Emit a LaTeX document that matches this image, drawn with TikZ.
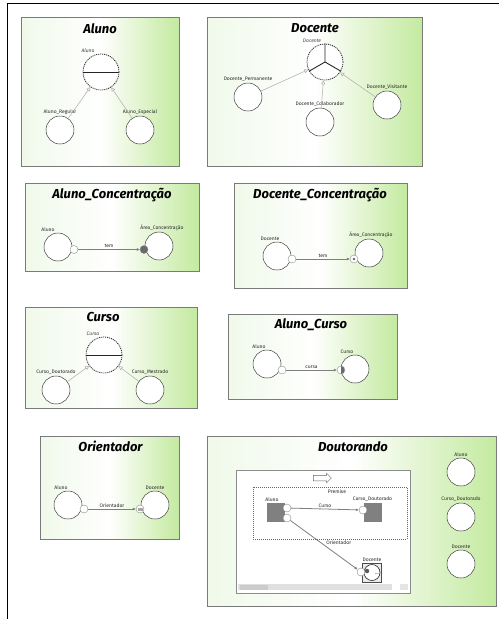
\documentclass[tikz,border=0pt]{standalone}
\usepackage{fontspec}
\setmainfont{Fira Sans}
\usetikzlibrary{arrows.meta, positioning, shapes.arrows}

\definecolor{panelgreen}{HTML}{C4EAA0}
\definecolor{paneltint}{HTML}{F0F9EA}
\definecolor{edgegray}{HTML}{7A7A7A}
\definecolor{linkgray}{HTML}{7F7F7F}
\definecolor{gengray}{HTML}{ABABAB}
\definecolor{portdark}{HTML}{6A6A6A}

\tikzset{
  panel/.style={draw=edgegray, line width=0.7pt, left color=paneltint, right color=panelgreen, middle color=white},
  title/.style={font=\fontsize{13}{15}\selectfont\bfseries\itshape, anchor=base, inner sep=0pt},
  lbl/.style={font=\fontsize{5}{6}\selectfont, text=black!85, inner sep=1pt},
  plbl/.style={font=\fontsize{5}{6}\selectfont\itshape, text=black!75, inner sep=1pt},
  super/.style={circle, minimum size=36pt, inner sep=0pt, fill=white, draw=black!85, line width=0.8pt, dash pattern=on 1.1pt off 0.9pt},
  kind/.style={circle, minimum size=28pt, inner sep=0pt, fill=white, draw=black!75, line width=0.5pt},
  port/.style={circle, minimum size=8pt, inner sep=0pt, fill=white, draw=black!45, line width=0.4pt},
  spoke/.style={draw=black!85, line width=0.9pt},
  gen/.style={draw=gengray, line width=0.5pt, -{Triangle[open, length=4pt, width=4pt]}},
  link/.style={draw=linkgray, line width=1pt, -{Latex[length=3pt, width=3pt]}},
  block/.style={fill=black!50, inner sep=0pt},
}

\begin{document}
\begin{tikzpicture}[x=1pt, y=-1pt]
\useasboundingbox (0,0) rectangle (499,619);
\draw[line width=1pt] (7,619) -- (7,3) -- (499,3);

% Aluno
\draw[panel] (21,17) rectangle (179,166);
\node[title] (tAluno) at (100,33) {Aluno};
\node[super, label={[plbl, xshift=-13pt]above:Aluno}] (aluno) at (101,72) {};
\draw[spoke] (aluno.west) -- (aluno.east);
\node[kind, label={[lbl]above:Aluno\_Regular}] (regular) at (60,130) {};
\node[kind, label={[lbl]above:Aluno\_Especial}] (especial) at (140,130) {};
\draw[gen] (regular) -- (aluno);
\draw[gen] (especial) -- (aluno);

% Docente
\draw[panel] (207,17) rectangle (422,166);
\node[title] (tDocente) at (315,32.5) {Docente};
\node[super, label={[plbl, xshift=-13pt]above:Docente}] (docente) at (325,62) {};
\draw[spoke] (docente.center) -- (docente.north)
  (docente.center) -- (docente.210)
  (docente.center) -- (docente.330);
\node[kind, label={[lbl]above:Docente\_Permanente}] (permanente) at (248,97) {};
\node[kind, label={[lbl]above:Docente\_Colaborador}] (colaborador) at (320,122) {};
\node[kind, label={[lbl]above:Docente\_Visitante}] (visitante) at (387,105) {};
\draw[gen] (permanente) -- (docente);
\draw[gen] (colaborador) -- (docente);
\draw[gen] (visitante) -- (docente);

% Aluno_Concentracao
\draw[panel] (25,183) rectangle (199,271);
\node[title] (tAlunoConc) at (112,198) {Aluno\_Concentração};
\node[kind, label={[lbl, xshift=-10pt]above:Aluno}] (acAluno) at (58,247) {};
\node[kind, label={[lbl, xshift=3pt]above:Área\_Concentração}] (acArea) at (159,246) {};
\node[port] (acOut) at (74,249.5) {};
\node[port, fill=portdark] (acIn) at (144,249.5) {};
\draw[link] (acOut) -- (acIn) node[lbl, midway, above] {tem};

% Docente_Concentracao
\draw[panel] (234,183) rectangle (407,288);
\node[title] (tDocConc) at (320,198) {Docente\_Concentração};
\node[kind, label={[lbl, xshift=-7pt]above:Docente}] (dcDocente) at (277,256) {};
\node[kind, label={[lbl, xshift=2pt]above:Área\_Concentração}] (dcArea) at (369,253) {};
\node[port] (dcOut) at (292,259) {};
\node[port, path picture={\fill[portdark] (path picture bounding box.center) circle[radius=1.3pt];}] (dcIn) at (354,259) {};
\draw[link] (dcOut) -- (dcIn) node[lbl, midway, above] {tem};

% Curso
\draw[panel] (25,307) rectangle (197,408);
\node[title] (tCurso) at (103,321) {Curso};
\node[super, label={[plbl, xshift=-11pt]above:Curso}] (curso) at (104,355) {};
\draw[spoke] (curso.west) -- (curso.east);
\node[kind, label={[lbl]above:Curso\_Doutorado}] (doutorado) at (56,390) {};
\node[kind, label={[lbl]above:Curso\_Mestrado}] (mestrado) at (150,390) {};
\draw[gen] (doutorado) -- (curso);
\draw[gen] (mestrado) -- (curso);

% Aluno_Curso
\draw[panel] (228,314) rectangle (397,399);
\node[title] (tAlunoCurso) at (311,328) {Aluno\_Curso};
\node[kind, label={[lbl, xshift=-8pt]above:Aluno}] (ucAluno) at (267,364) {};
\node[kind, label={[lbl, xshift=-8pt]above:Curso}] (ucCurso) at (355,369) {};
\node[port] (ucOut) at (282,370) {};
\node[port, path picture={\fill[portdark] (path picture bounding box.north) rectangle (path picture bounding box.south east);}] (ucIn) at (341,370) {};
\draw[link] (ucOut) -- (ucIn) node[lbl, midway, above] {cursa};

% Orientador
\draw[panel] (40,436) rectangle (179,539);
\node[title] (tOrientador) at (110.5,451) {Orientador};
\node[kind, label={[lbl, xshift=-7pt]above:Aluno}] (orAluno) at (68,505) {};
\node[kind, label={[lbl]above:Docente}] (orDocente) at (155,505) {};
\node[port] (orOut) at (84,509) {};
\node[port, path picture={\fill[black!35] ([shift={(-2pt,-1.5pt)}]path picture bounding box.center) rectangle ([shift={(2.5pt,1.5pt)}]path picture bounding box.center);}] (orIn) at (140,509) {};
\draw[link] (orOut) -- (orIn) node[lbl, midway, above] {Orientador};

% Doutorando
\draw[panel] (207,436) rectangle (496,606);
\node[title] (tDoutorando) at (353,451) {Doutorando};
\node[kind, label={[lbl]above:Aluno}] (dAluno) at (461,472) {};
\node[kind, label={[lbl]above:Curso\_Doutorado}] (dCurso) at (461,517) {};
\node[kind, label={[lbl]above:Docente}] (dDocente) at (461,564) {};

% rule window
\draw[draw=black!45, fill=white, line width=0.6pt] (236,470) rectangle (410,593);
\node[single arrow, draw=black!60, fill=white, line width=0.5pt, minimum height=18pt,
  inner xsep=0pt, inner ysep=2.5pt, single arrow head extend=2pt] (flow) at (321,478) {};
\draw[draw=black!60, line width=0.4pt, dash pattern=on 1pt off 1pt] (253,487) rectangle (407,539);
\node[lbl] (premise) at (337,492) {Premise};
\node[block, minimum width=18pt, minimum height=19pt, label={[lbl, xshift=-4pt]above:Aluno}] (wAluno) at (276,512.5) {};
\node[block, minimum width=18pt, minimum height=19pt, label={[lbl]above:Curso\_Doutorado}] (wCurso) at (372.5,512.5) {};
\node[port] (wAlunoA) at (287,508) {};
\node[port] (wAlunoB) at (287,518) {};
\node[port] (wCursoIn) at (363,510) {};
\draw[link, line width=0.8pt] (wAlunoA) -- (wCursoIn) node[lbl, midway, above] {Curso};
\node[draw=black!70, fill=black!8, minimum size=19pt, inner sep=0pt, label={[lbl]above:Docente}] (wDocente) at (372,572.5) {};
\node[circle, draw=black!85, fill=white, minimum size=16pt, inner sep=0pt, line width=0.6pt] (wDocRing) at (wDocente.center) {};
\node[circle, fill=black!65, minimum size=4.5pt, inner sep=0pt] (wDocDot) at (367,571) {};
\node[font=\fontsize{5}{5}\selectfont, inner sep=0pt] (wDocMore) at (377,574) {...};
\node[port] (wDocIn) at (361,572) {};
\draw[link, line width=0.8pt] (wAlunoB) -- (wDocIn) node[lbl, pos=0.72, above=10pt] {Orientador};
% scroll bar
\fill[black!12] (238,584) rectangle (392,590);
\fill[black!20] (240,584.5) rectangle (268,589.5);
\fill[black!10] (400,584) rectangle (408,590);
\end{tikzpicture}
\end{document}
